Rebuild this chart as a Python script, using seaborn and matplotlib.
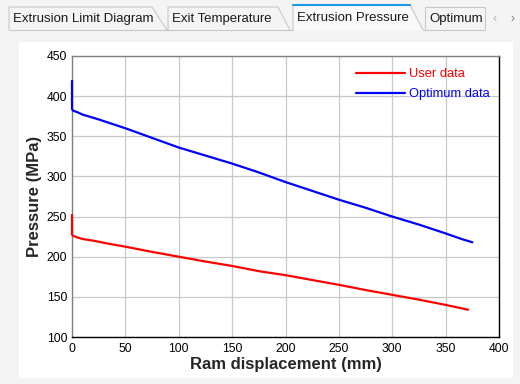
"""
Extrusion pressure vs ram displacement (user data vs optimum data).
"""

import matplotlib
matplotlib.use("Agg")
import matplotlib.pyplot as plt
from matplotlib.patches import Rectangle, Polygon
from matplotlib.lines import Line2D
import pandas as pd
import seaborn as sns

# Data
user_x = [0, 0, 1, 5, 10, 20, 35, 50, 75, 100, 125, 150, 175, 200, 225, 250, 275, 300, 325, 350, 371]
user_y = [252, 228, 226, 224, 222, 220, 216, 212.5, 206, 200, 194, 188.5, 182, 177, 171, 165, 158.5, 152.5, 146.5, 140, 134]

optimum_x = [0, 0, 1, 5, 10, 25, 50, 75, 100, 125, 150, 175, 200, 225, 250, 275, 300, 325, 350, 365, 375]
optimum_y = [419, 384, 382, 380, 377, 371, 360, 348, 336, 326, 316, 305, 293, 282, 271, 261, 250, 240, 229, 222, 218]

tab_labels = ["Extrusion Limit Diagram", "Exit Temperature", "Extrusion Pressure", "Optimum"]
x_ticks = [0, 50, 100, 150, 200, 250, 300, 350, 400]
y_ticks = [100, 150, 200, 250, 300, 350, 400, 450]

series_colors = {"User data": "#ff0000", "Optimum data": "#0000ff"}

sns.set_theme(style="whitegrid")
plt.rcParams["font.family"] = ["Liberation Sans", "DejaVu Sans"]

W, H = 520, 384
fig = plt.figure(figsize=(W / 100, H / 100), dpi=100)
fig.patch.set_facecolor("#f4f4f4")


def fx(px):
    return px / W


def fy(py):
    return 1 - py / H


# white chart panel
fig.patches.append(Rectangle((fx(19), fy(378)), fx(494), 336 / H, transform=fig.transFigure,
                             facecolor="white", edgecolor="none", zorder=0))

# tab strip
tabs = [(9, 152, 167, 7), (168, 278, 290, 7), (293, 410, 423, 5), (425, 485, 485, 7)]
for i, (left, top_right, bot_right, top) in enumerate(tabs):
    pts = [(fx(left), fy(30)), (fx(left), fy(top)), (fx(top_right), fy(top)), (fx(bot_right), fy(30))]
    active = i == 2
    fig.patches.append(Polygon(pts, closed=False, transform=fig.transFigure,
                               facecolor="#f9f9f9" if active else "#f4f4f4",
                               edgecolor="#c8c8c8", linewidth=0.8, zorder=1))
    if active:
        fig.add_artist(Line2D([fx(left), fx(top_right)], [fy(top), fy(top)], color="#1e9be0",
                              linewidth=1.5, transform=fig.transFigure, zorder=2))
    fig.text(fx(left + 4), fy(19 if not active else 18), tab_labels[i], fontsize=9.5,
             va="center", ha="left", color="#1a1a1a", zorder=3)
# baseline under inactive tabs
fig.add_artist(Line2D([fx(9), fx(293)], [fy(30), fy(30)], color="#c8c8c8", linewidth=0.8,
                      transform=fig.transFigure))
fig.add_artist(Line2D([fx(423), fx(485)], [fy(30), fy(30)], color="#c8c8c8", linewidth=0.8,
                      transform=fig.transFigure))
fig.text(fx(495), fy(19), "‹", fontsize=9, color="#b0b0b0", ha="center", va="center")
fig.text(fx(513), fy(19), "›", fontsize=9, color="#808080", ha="center", va="center")

# plot
ax = fig.add_axes([fx(72), fy(337), 427 / W, 281 / H])
ax.set_zorder(5)
ax.set_facecolor("white")

df = pd.concat([
    pd.DataFrame({"x": user_x, "y": user_y, "series": "User data"}),
    pd.DataFrame({"x": optimum_x, "y": optimum_y, "series": "Optimum data"}),
])
sns.lineplot(data=df, x="x", y="y", hue="series", palette=series_colors, estimator=None,
             sort=False, linewidth=1.6, ax=ax, legend=False)
for line in ax.lines:
    line.set_clip_on(False)
    line.set_zorder(4)

ax.set_xlim(0, 400)
ax.set_ylim(100, 450)
ax.set_xticks(x_ticks)
ax.set_yticks(y_ticks)
ax.grid(True, color="#c8c8c8", linewidth=0.9)
ax.tick_params(axis="both", labelsize=8.7, colors="black", length=3, width=0.8, direction="out", pad=0.5)
ax.tick_params(axis="x", length=0, pad=4)
ax.set_xlabel("Ram displacement (mm)", fontsize=12, fontweight="bold", labelpad=1.5)
ax.set_ylabel("Pressure (MPa)", fontsize=12, fontweight="bold", labelpad=3)

for side in ["left", "top"]:
    ax.spines[side].set_color("#808080")
for side in ["right", "bottom"]:
    ax.spines[side].set_color("black")
for s in ax.spines.values():
    s.set_linewidth(1.0)
    s.set_visible(True)
    s.set_zorder(3)

handles = [Line2D([], [], color=c, linewidth=1.6) for c in series_colors.values()]
ax.legend(handles, list(series_colors.keys()), loc="upper left",
          bbox_to_anchor=(fx(356), fy(68)), bbox_transform=fig.transFigure,
          frameon=False, fontsize=9.3, handlelength=3.8, handletextpad=0.3, labelspacing=0.62,
          borderpad=0, borderaxespad=0, labelcolor="linecolor")

fig.savefig("out.png", dpi=100, facecolor=fig.get_facecolor())
